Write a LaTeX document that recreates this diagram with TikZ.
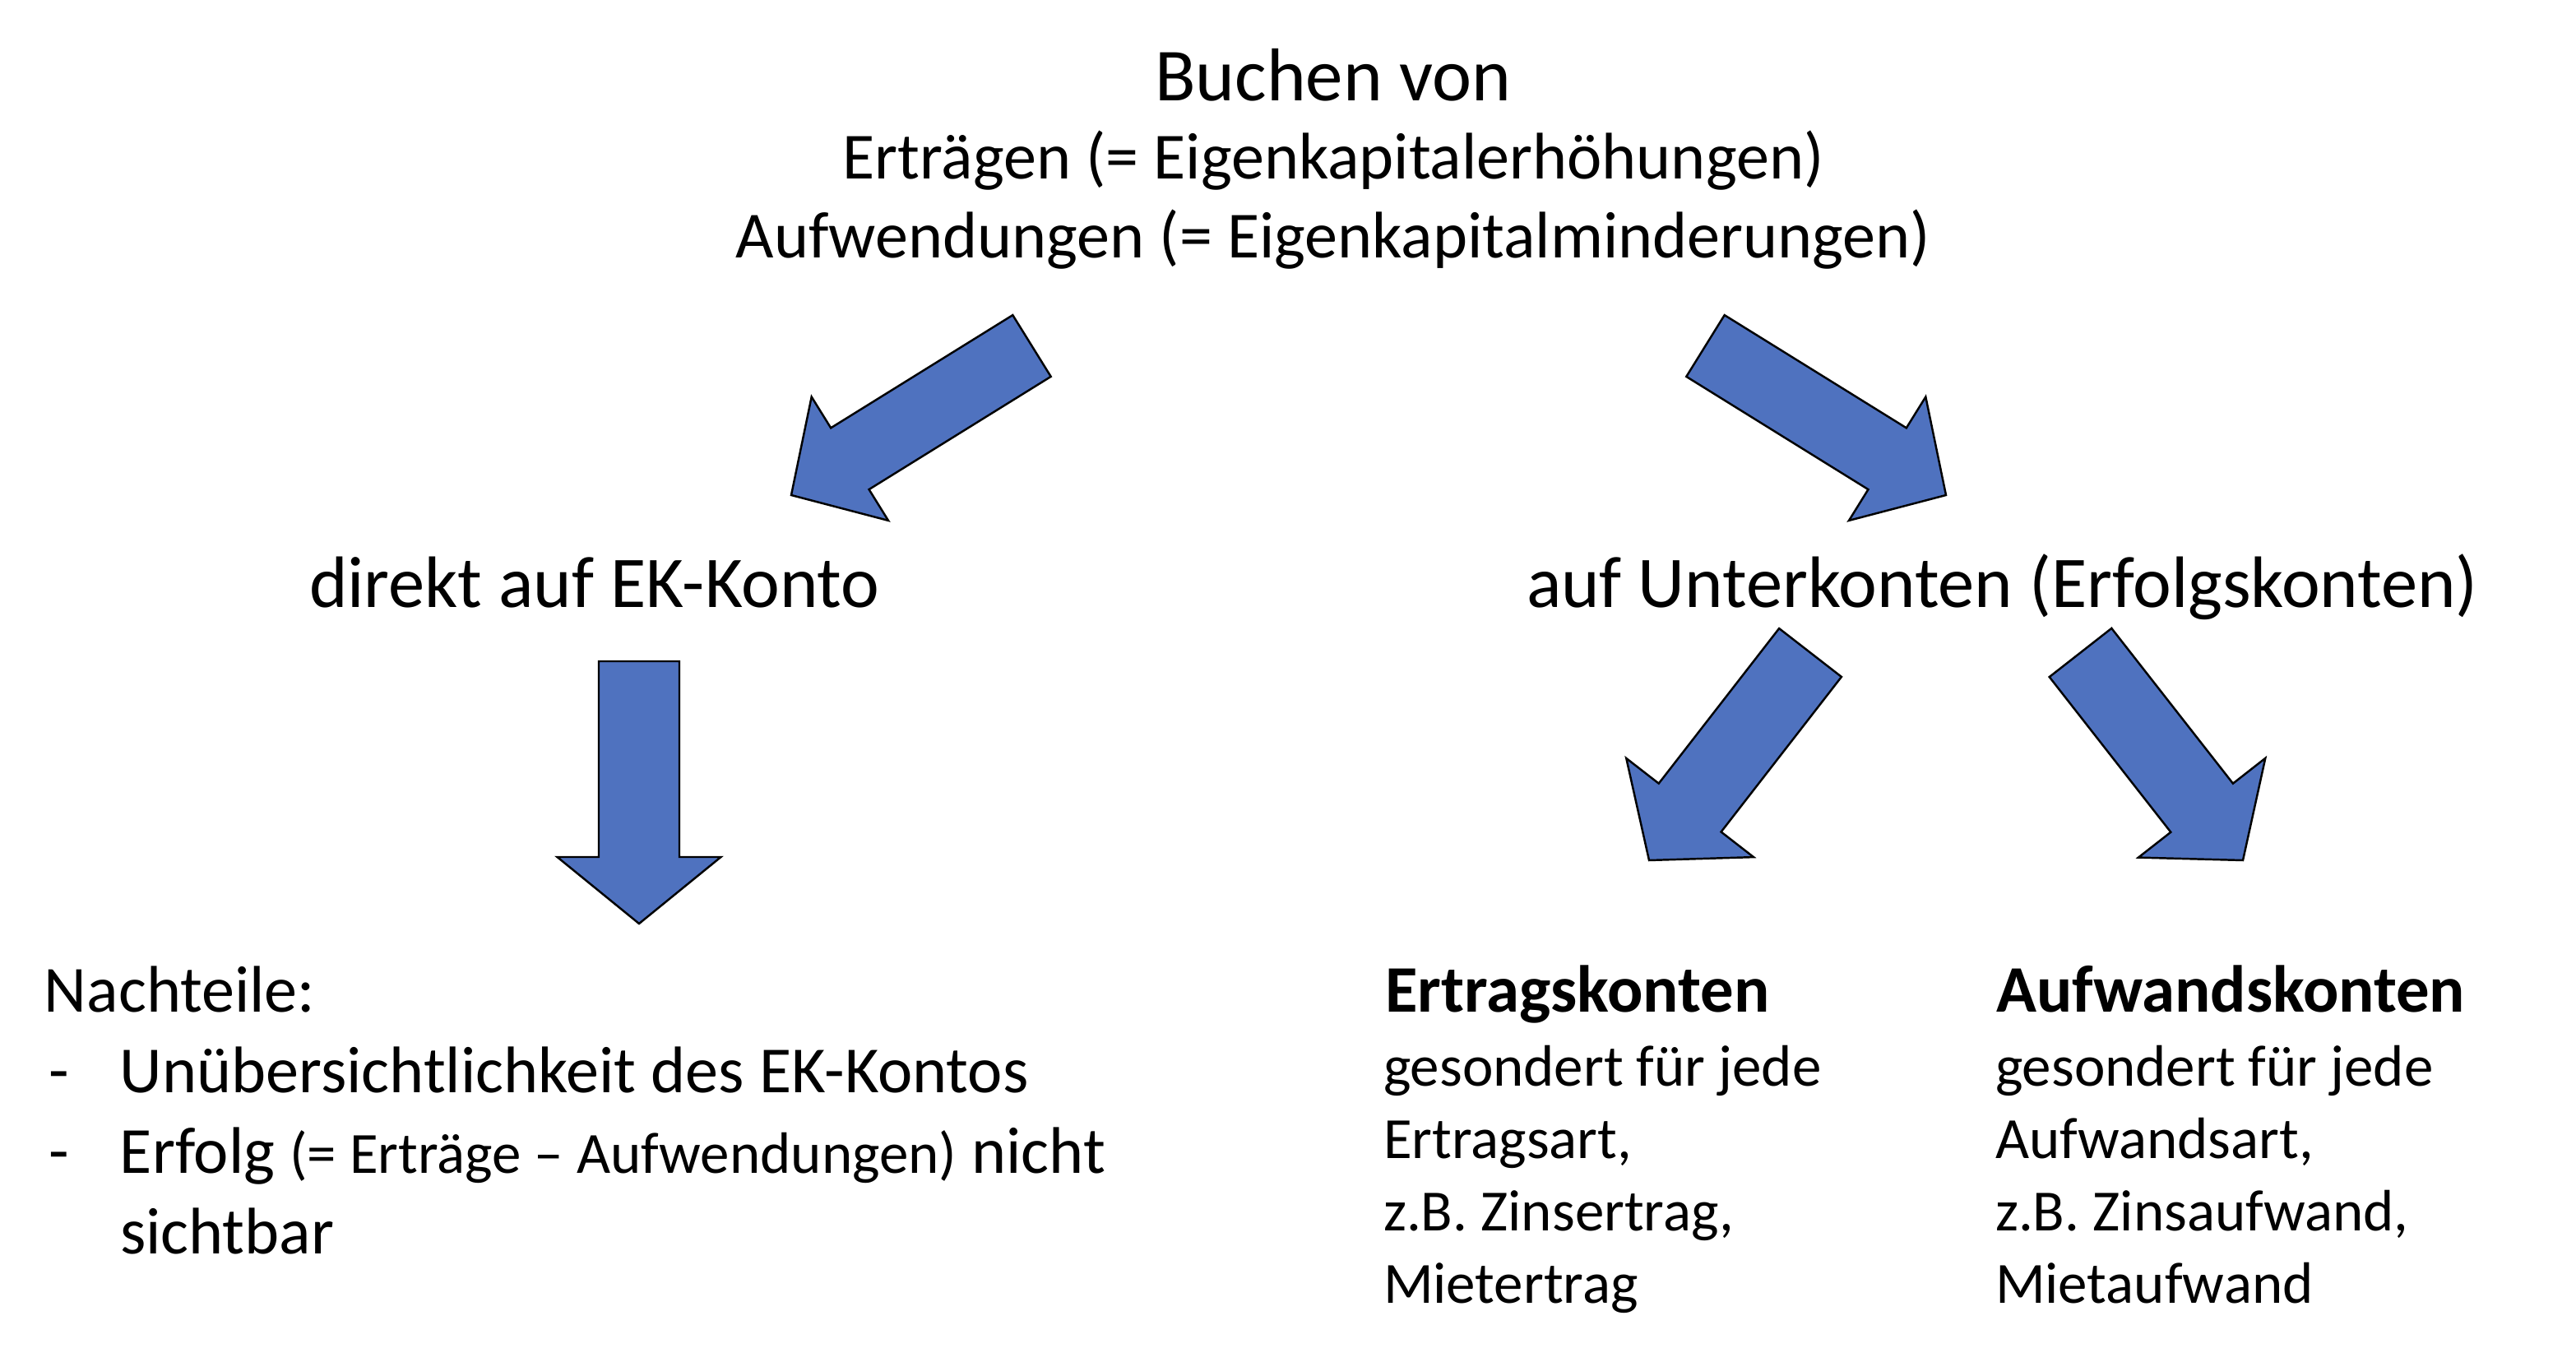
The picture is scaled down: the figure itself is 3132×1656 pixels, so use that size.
\documentclass[tikz,border=0pt]{standalone}
\usepackage{fontspec}
\setmainfont{Carlito}
\usetikzlibrary{calc}
\definecolor{arrowblue}{RGB}{79,114,191}
\tikzset{
  bigarrow/.style={fill=arrowblue, draw=black, line width=0.7pt, line join=miter},
  txt/.style={inner sep=0pt, outer sep=0pt, anchor=base west},
  ctxt/.style={inner sep=0pt, outer sep=0pt, anchor=base},
  titletxt/.style={ctxt, font=\fontsize{25.9}{31}\selectfont},
  subtxt/.style={ctxt, font=\fontsize{22.8}{27}\selectfont},
  midtxt/.style={txt, font=\fontsize{25.2}{30}\selectfont},
  lowtxt/.style={txt, font=\fontsize{22.8}{27}\selectfont},
  headtxt/.style={txt, font=\fontsize{23.0}{28}\selectfont\bfseries},
  bodytxt/.style={txt, font=\fontsize{20.2}{25}\selectfont},
}
% #1 tail, #2 tip, #3 shaft half width, #4 head half width, #5 head length
\newcommand\fatarrow[5]{%
  \draw[bigarrow]
    ($(#1)!#3!90:(#2)$)
    -- ($($(#2)!#5!(#1)$)!#3!90:(#2)$)
    -- ($($(#2)!#5!(#1)$)!#4!90:(#2)$)
    -- (#2)
    -- ($($(#2)!#5!(#1)$)!#4!-90:(#2)$)
    -- ($($(#2)!#5!(#1)$)!#3!-90:(#2)$)
    -- ($(#1)!#3!-90:(#2)$)
    -- cycle;}
\begin{document}
\begin{tikzpicture}[x=0.1mm,y=-0.1mm]
\useasboundingbox (0,0) rectangle (3132,1656);

% top texts
\node[titletxt] (t0) at (1621,123) {Buchen von};
\node[subtxt] (t1) at (1621,218) {Erträgen (= Eigenkapitalerhöhungen)};
\node[subtxt] (t2) at (1621,314) {Aufwendungen (= Eigenkapitalminderungen)};

% middle texts
\node[midtxt] (direkt) at (376,738) {direkt auf EK-Konto};
\node[midtxt] (unter) at (1856,738) {auf Unterkonten (Erfolgskonten)};

% lower left
\node[lowtxt] (nach) at (54,1230) {Nachteile:};
\node[lowtxt] (n1) at (60,1328) {\makebox[8.6mm][l]{-}Unübersichtlichkeit des EK-Kontos};
\node[lowtxt] (n2) at (60,1426) {\makebox[8.6mm][l]{-}Erfolg {\fontsize{20.2}{24}\selectfont(= Erträge – Aufwendungen)} nicht};
\node[lowtxt] (n3) at (146,1524) {sichtbar};

% lower right: Ertragskonten
\node[headtxt] (ek) at (1684,1230) {Ertragskonten};
\node[bodytxt] (ek1) at (1682,1320) {gesondert für jede};
\node[bodytxt] (ek2) at (1682,1408) {Ertragsart,};
\node[bodytxt] (ek3) at (1682,1496) {z.B. Zinsertrag,};
\node[bodytxt] (ek4) at (1682,1584) {Mietertrag};

% lower right: Aufwandskonten
\node[headtxt] (ak) at (2427,1230) {Aufwandskonten};
\node[bodytxt] (ak1) at (2426,1320) {gesondert für jede};
\node[bodytxt] (ak2) at (2426,1408) {Aufwandsart,};
\node[bodytxt] (ak3) at (2426,1496) {z.B. Zinsaufwand,};
\node[bodytxt] (ak4) at (2426,1584) {Mietaufwand};

% arrow end points
\coordinate (a1s) at (1254.5,420.5);
\coordinate (a1e) at (962,602);
\coordinate (a2s) at (2073.5,420.5);
\coordinate (a2e) at (2366,602);
\coordinate (a3s) at (777,804);
\coordinate (a3e) at (777,1123);
\coordinate (a4s) at (2201,793.5);
\coordinate (a4e) at (2005,1046);
\coordinate (a5s) at (2529.5,793.5);
\coordinate (a5e) at (2727,1046);

\fatarrow{a1s}{a1e}{4.4mm}{8.85mm}{8.4mm}
\fatarrow{a2s}{a2e}{4.4mm}{8.85mm}{8.4mm}
\fatarrow{a3s}{a3e}{4.9mm}{9.95mm}{8.1mm}
\fatarrow{a4s}{a4e}{4.8mm}{9.8mm}{8.1mm}
\fatarrow{a5s}{a5e}{4.8mm}{9.8mm}{8.1mm}
\end{tikzpicture}
\end{document}
